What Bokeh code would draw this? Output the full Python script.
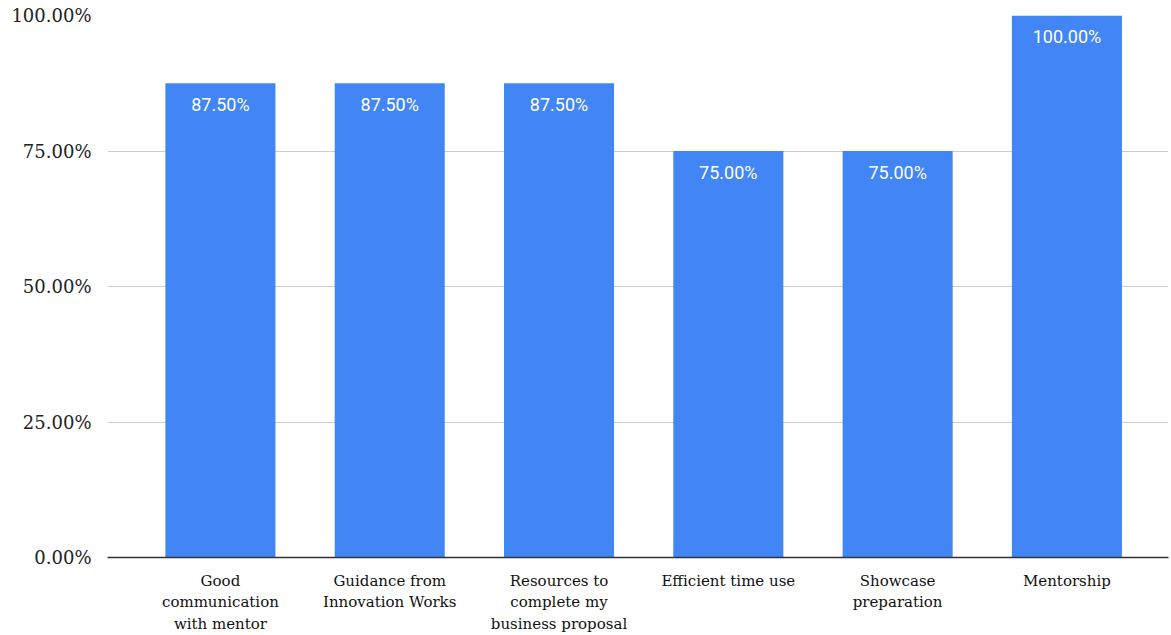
from bokeh.plotting import figure
from bokeh.models import ColumnDataSource, FixedTicker, NumeralTickFormatter, Range1d
from bokeh.core.properties import value
from bokeh.embed import file_html
from bokeh.resources import INLINE

categories = [
    "Good\ncommunication\nwith mentor",
    "Guidance from\nInnovation Works",
    "Resources to\ncomplete my\nbusiness proposal",
    "Efficient time use",
    "Showcase\npreparation",
    "Mentorship",
]
shares = [0.875, 0.875, 0.875, 0.75, 0.75, 1.0]
y_ticks = [0.0, 0.25, 0.5, 0.75, 1.0]

xs = list(range(len(categories)))
labels = [f"{v * 100:.2f}%" for v in shares]
src = ColumnDataSource(dict(x=xs, top=shares, label=labels))

p = figure(
    width=1171, height=635,
    x_range=Range1d(-0.667, 5.6), y_range=Range1d(0, 1),
    output_backend="svg", toolbar_location=None,
    min_border_left=107, min_border_right=3,
    min_border_top=15, min_border_bottom=77,
)
p.outline_line_color = None
p.background_fill_color = "white"

p.vbar(x="x", top="top", width=0.65, bottom=0, source=src,
       fill_color="#4285F4", line_color=None)

p.text(x="x", y="top", text="label", source=src,
       text_align="center", text_baseline="middle", y_offset=21,
       text_color="white", text_font=value("Roboto"), text_font_size="18px")

# y axis: percentage ticks, no axis line
p.yaxis.ticker = FixedTicker(ticks=y_ticks)
p.yaxis.formatter = NumeralTickFormatter(format="0.00%")
p.yaxis.axis_line_color = None
p.yaxis.major_tick_line_color = None
p.yaxis.minor_tick_line_color = None
p.yaxis.major_label_text_font = "DejaVu Serif"
p.yaxis.major_label_text_font_size = "18px"
p.yaxis.major_label_text_color = "#222222"
p.yaxis.major_label_standoff = 10

p.ygrid.grid_line_color = "#cccccc"
p.ygrid.grid_line_width = 1
p.xgrid.grid_line_color = None

# x axis: category names under each bar
p.xaxis.ticker = FixedTicker(ticks=xs)
p.xaxis.major_label_overrides = {i: c for i, c in zip(xs, categories)}
p.xaxis.axis_line_color = "#333333"
p.xaxis.axis_line_width = 1.5
p.xaxis.major_tick_line_color = None
p.xaxis.minor_tick_line_color = None
p.xaxis.major_label_text_font = "DejaVu Serif"
p.xaxis.major_label_text_font_size = "15px"
p.xaxis.major_label_text_line_height = 1.2
p.xaxis.major_label_text_color = "#111111"
p.xaxis.major_label_standoff = 8

open("out.html", "w").write(file_html(p, INLINE))
